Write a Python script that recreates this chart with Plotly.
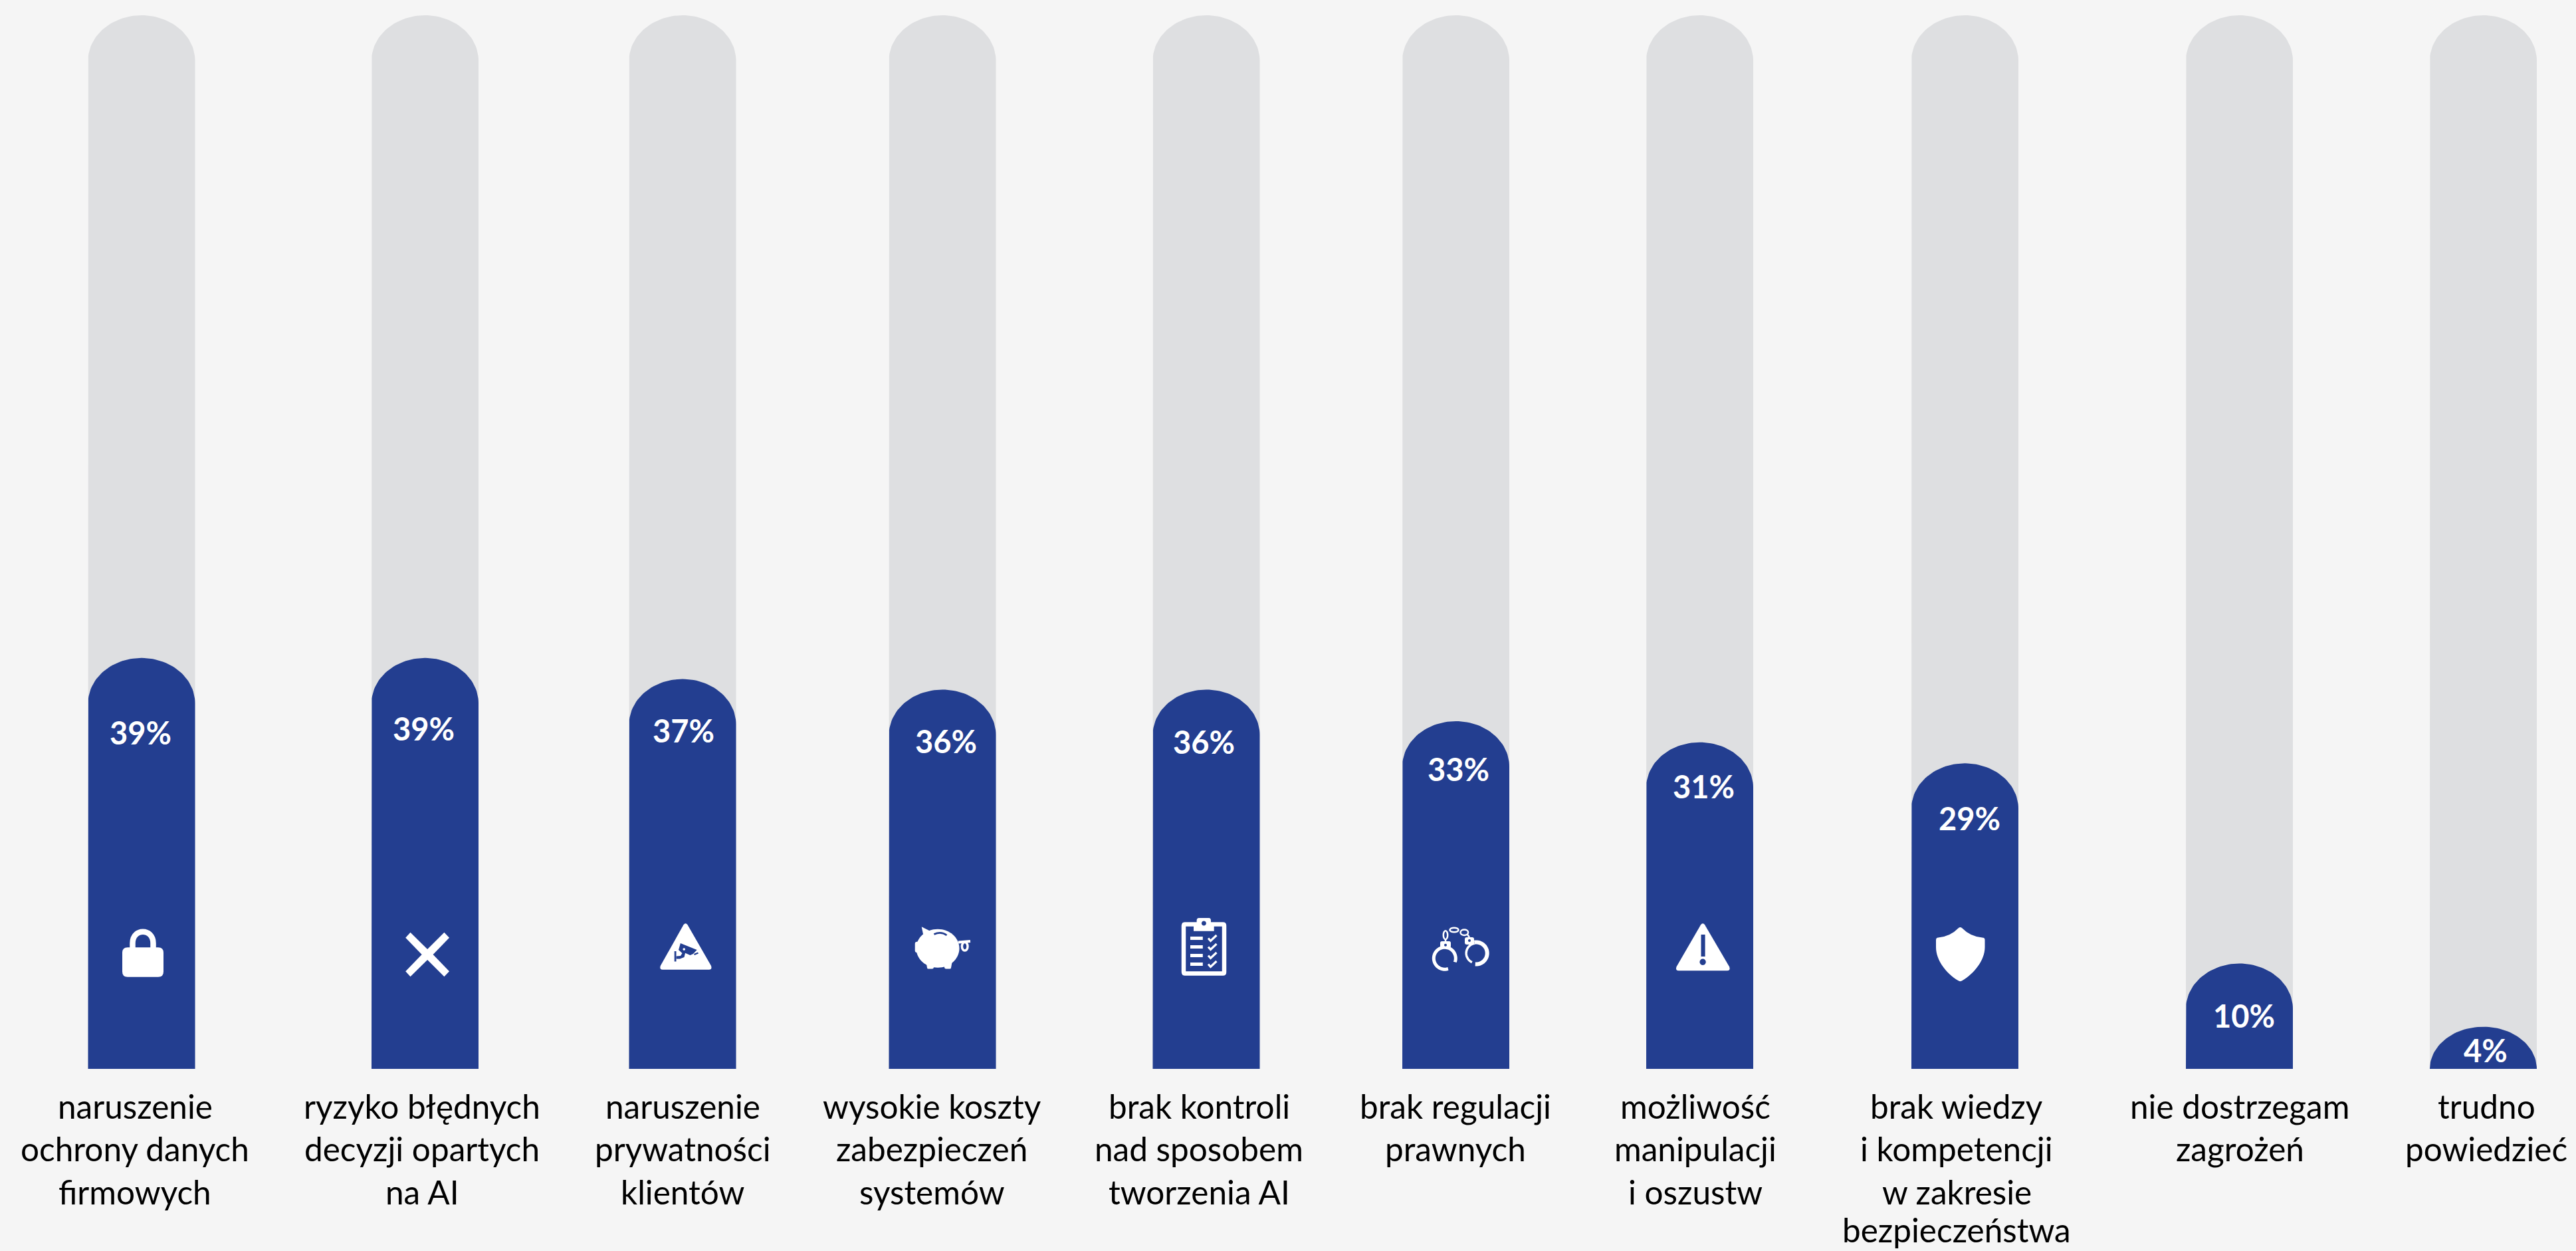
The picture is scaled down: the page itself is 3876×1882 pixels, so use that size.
import math
import re
import plotly.graph_objects as go

# Survey data
categories = [
    ["naruszenie", "ochrony danych", "firmowych"],
    ["ryzyko błędnych", "decyzji opartych", "na AI"],
    ["naruszenie", "prywatności", "klientów"],
    ["wysokie koszty", "zabezpieczeń", "systemów"],
    ["brak kontroli", "nad sposobem", "tworzenia AI"],
    ["brak regulacji", "prawnych"],
    ["możliwość", "manipulacji", "i oszustw"],
    ["brak wiedzy", "i kompetencji", "w zakresie", "bezpieczeństwa"],
    ["nie dostrzegam", "zagrożeń"],
    ["trudno", "powiedzieć"],
]
values = [39, 39, 37, 36, 36, 33, 31, 29, 10, 4]
track_value = 100

# Layout
WIDTH, HEIGHT = 3876, 1882
BASE_Y = 1608
PX_PER_UNIT = 15.85
BAR_W = 161
CAP_H = 68
bar_x = [213, 639.5, 1027, 1418, 1815, 2190.5, 2557.5, 2956.5, 3369.5, 3736.5]
label_x = [203, 635, 1027, 1402, 1804, 2190, 2551, 2944, 3370, 3741]
value_x = [211, 637, 1028.5, 1423, 1811, 2194, 2563, 2963, 3376, 3740]
value_y = [1101.6, 1095.6, 1098.6, 1115, 1116, 1157, 1183, 1230.6, 1528, 1580]
LABEL_Y0 = 1663.5
LABEL_PITCH = 64.5

BG = "#f5f5f5"
TRACK = "#dedfe1"
BLUE = "#233e90"
WHITE = "#ffffff"


def capsule(cx, value):
    """Outline of a bar with an elliptical dome on top, in axis units."""
    half = BAR_W / 2
    cap = min(CAP_H / PX_PER_UNIT, value)
    xs, ys = [cx - half], [0]
    for i in range(61):
        t = math.pi * (1 - i / 60)
        xs.append(cx + half * math.cos(t))
        ys.append(value - cap + cap * math.sin(t))
    xs += [cx + half, cx - half, None]
    ys += [0, 0, None]
    return xs, ys


def series_outline(vals):
    xs, ys = [], []
    for cx, v in zip(bar_x, vals):
        a, b = capsule(cx, v)
        xs += a
        ys += b
    return xs, ys


fig = go.Figure()
for vals, colour, name in (([track_value] * len(values), TRACK, "100%"), (values, BLUE, "odpowiedzi")):
    xs, ys = series_outline(vals)
    fig.add_trace(go.Scatter(x=xs, y=ys, mode="lines", fill="toself", fillcolor=colour,
                             line=dict(width=0, color=colour), hoverinfo="skip", name=name))


# Icons are drawn in page pixels and converted to paper fractions
def to_paper(path):
    tokens = re.findall(r"[MLCQZ]|-?\d+\.?\d*", path)
    out, is_x = [], True
    for tok in tokens:
        if tok in "MLCQZ":
            out.append(tok)
            is_x = True
        elif is_x:
            out.append(f"{float(tok) / WIDTH:.6f}")
            is_x = False
        else:
            out.append(f"{1 - float(tok) / HEIGHT:.6f}")
            is_x = True
    return " ".join(out)


def add_fill(path, colour=WHITE):
    fig.add_shape(type="path", path=to_paper(path), xref="paper", yref="paper",
                  fillcolor=colour, line=dict(width=0), layer="above")


def add_stroke(path, width, colour=WHITE):
    fig.add_shape(type="path", path=to_paper(path), xref="paper", yref="paper",
                  line=dict(width=width, color=colour), layer="above")


def ellipse(cx, cy, rx, ry):
    k = 0.5523
    return (f"M{cx - rx},{cy} C{cx - rx},{cy - k * ry} {cx - k * rx},{cy - ry} {cx},{cy - ry} "
            f"C{cx + k * rx},{cy - ry} {cx + rx},{cy - k * ry} {cx + rx},{cy} "
            f"C{cx + rx},{cy + k * ry} {cx + k * rx},{cy + ry} {cx},{cy + ry} "
            f"C{cx - k * rx},{cy + ry} {cx - rx},{cy + k * ry} {cx - rx},{cy} Z")


def round_rect(x0, y0, x1, y1, r):
    return (f"M{x0 + r},{y0} L{x1 - r},{y0} Q{x1},{y0} {x1},{y0 + r} L{x1},{y1 - r} "
            f"Q{x1},{y1} {x1 - r},{y1} L{x0 + r},{y1} Q{x0},{y1} {x0},{y1 - r} "
            f"L{x0},{y0 + r} Q{x0},{y0} {x0 + r},{y0} Z")


def arc(cx, cy, r, deg0, deg1, steps=40):
    pts = []
    for i in range(steps + 1):
        a = math.radians(deg0 + (deg1 - deg0) * i / steps)
        pts.append(f"{cx + r * math.cos(a):.2f},{cy + r * math.sin(a):.2f}")
    return "M" + " L".join(pts)


def rounded_triangle(ax, ay, lx, rx, by):
    return (f"M{ax - 3},{ay + 2} Q{ax},{ay - 2} {ax + 3},{ay + 2} L{rx - 1},{by - 6} "
            f"Q{rx + 1},{by} {rx - 4},{by} L{lx + 4},{by} Q{lx - 1},{by} {lx + 1},{by - 6} Z")


# Padlock
add_fill(round_rect(184, 1425.3, 246, 1469.7, 8))
add_stroke("M199.5,1428 L199.5,1419 C199.5,1396 230.5,1396 230.5,1419 L230.5,1428", 8.5)

# Cross
add_fill("M617.5,1402.7 L643.1,1428 L668.4,1402.7 L676,1410.7 L651.6,1436 L676,1461.3 L668.4,1469.3 "
         "L643.1,1444 L617.5,1469.3 L610.2,1461.3 L634.7,1436 L610.2,1410.7 Z")

# Triangle sign with a camera
add_fill(rounded_triangle(1031.5, 1389.3, 992.9, 1070.9, 1458.7))
add_fill("M1023.9,1419 L1048.7,1429 L1043,1435 L1038.5,1437 L1031,1433.7 L1029.5,1440 L1023,1442.5 "
         "L1017.5,1442.5 L1017.5,1438.5 L1024,1438 L1026.5,1434 L1021,1429 Z", BLUE)
add_fill("M1014.7,1431 L1017.5,1431 L1017.5,1446.5 L1014.7,1446.5 Z", BLUE)
add_fill("M1044,1435 L1050,1432.5 L1051,1434.5 L1045,1437 Z", BLUE)
add_fill(ellipse(1029.2, 1428, 1.8, 1.8))

# Piggy bank
add_fill(ellipse(1411, 1426.7, 32.5, 29))
add_fill("M1386.7,1394.3 L1399.7,1400.7 L1390,1410 Z")
add_fill(round_rect(1376.7, 1416.7, 1390, 1433, 3))
add_fill("M1393.2,1445 L1395,1456 Q1395,1457.5 1397,1457.5 L1403,1457.5 Q1405,1457.5 1405,1455 L1406,1450 Z")
add_fill("M1420,1450 L1421,1455 Q1421,1457.5 1423,1457.5 L1429,1457.5 Q1431,1457.5 1431,1456 L1433,1445 Z")
add_stroke("M1405.4,1405.5 Q1416,1400.5 1424.5,1407", 2.8, BLUE)
add_stroke("M1442,1417.5 L1460,1416", 4)
add_stroke(ellipse(1451.7, 1423.8, 4.3, 6.3), 3.5)

# Clipboard checklist
add_stroke(round_rect(1781, 1390.5, 1842, 1464.5, 2), 6.5)
add_fill("M1796,1390 L1800.6,1390 L1800.6,1385 Q1800.6,1381 1804,1381 L1819,1381 Q1822,1381 1822,1385 "
         "L1822,1390 L1826.7,1390 L1826.7,1400.7 L1796,1400.7 Z")
add_fill(ellipse(1811.4, 1389, 3.5, 3.5), BLUE)
for top in (1409, 1422, 1435, 1448):
    add_fill(f"M1791,{top} L1809.8,{top} L1809.8,{top + 5} L1791,{top + 5} Z")
    add_stroke(f"M1818,{top + 2.5} L1821.5,{top + 6.5} L1830.5,{top - 2}", 3.2)

# Handcuffs
add_stroke(arc(2173.8, 1441.7, 16.5, 72, 380), 5)
add_stroke(arc(2221.2, 1434, 16.5, -100, 95), 6)
add_stroke(arc(2221.2, 1434, 15, 115, 260), 3.5)
add_fill(round_rect(2167, 1416, 2183, 1426, 2.5))
add_fill(ellipse(2175, 1421.7, 2, 2), BLUE)
add_fill(round_rect(2204, 1410, 2218, 1421, 3))
add_fill(ellipse(2211, 1415, 2, 2), BLUE)
add_stroke(ellipse(2175, 1406.7, 3.2, 6.5), 2.5)
add_stroke(ellipse(2188, 1399, 6.5, 3.2), 2.5)
add_stroke(ellipse(2203.3, 1402.7, 5.8, 4.2), 2.5)
add_stroke("M2175,1413 L2175,1416", 2.5)
add_stroke("M2208,1406 L2211,1410", 2.5)

# Warning triangle
add_fill(rounded_triangle(2562.1, 1389.3, 2521.6, 2603, 1460.3))
add_fill("M2559.5,1406 L2565.6,1406 L2565.6,1439 L2559.5,1439 Z", BLUE)
add_fill(ellipse(2562.1, 1447.3, 4.6, 4.7), BLUE)

# Shield
add_fill("M2947,1396 Q2949.4,1394 2952,1396 Q2965,1409.5 2984,1410.7 Q2986.5,1411 2986.5,1414 L2986.5,1425 "
         "C2986.5,1445 2970,1465 2952,1475.5 Q2949.4,1477 2947,1475.5 C2929,1465 2913,1445 2913,1425 "
         "L2913,1414 Q2913,1411 2915,1410.7 Q2934,1409.5 2947,1396 Z")

# Value labels in bold white, category names underneath
annotations = []
for v, x, y in zip(values, value_x, value_y):
    annotations.append(dict(text=f"<b>{v}%</b>", x=x / WIDTH, y=1 - y / HEIGHT, xref="paper", yref="paper",
                            xanchor="center", yanchor="middle", showarrow=False,
                            font=dict(family="Lato, Carlito, sans-serif", size=47, color=WHITE)))
for lines, x in zip(categories, label_x):
    for i, line in enumerate(lines):
        # The fourth line sits against the page edge, so it is pulled up slightly
        y = LABEL_Y0 + i * LABEL_PITCH - (7 if i == 3 else 0)
        annotations.append(dict(text=line, x=x / WIDTH, y=1 - y / HEIGHT, xref="paper", yref="paper",
                                xanchor="center", yanchor="middle", showarrow=False,
                                font=dict(family="Lato, Carlito, sans-serif", size=49.5, color="#000000")))

fig.update_layout(
    width=WIDTH, height=HEIGHT,
    margin=dict(l=0, r=0, t=0, b=0),
    paper_bgcolor=BG, plot_bgcolor=BG,
    showlegend=False, hovermode=False,
    xaxis=dict(range=[0, WIDTH], visible=False, fixedrange=True),
    yaxis=dict(range=[(BASE_Y - HEIGHT) / PX_PER_UNIT, BASE_Y / PX_PER_UNIT], visible=False, fixedrange=True),
    annotations=annotations,
)

fig.write_html("out.html", config={"displayModeBar": False})
